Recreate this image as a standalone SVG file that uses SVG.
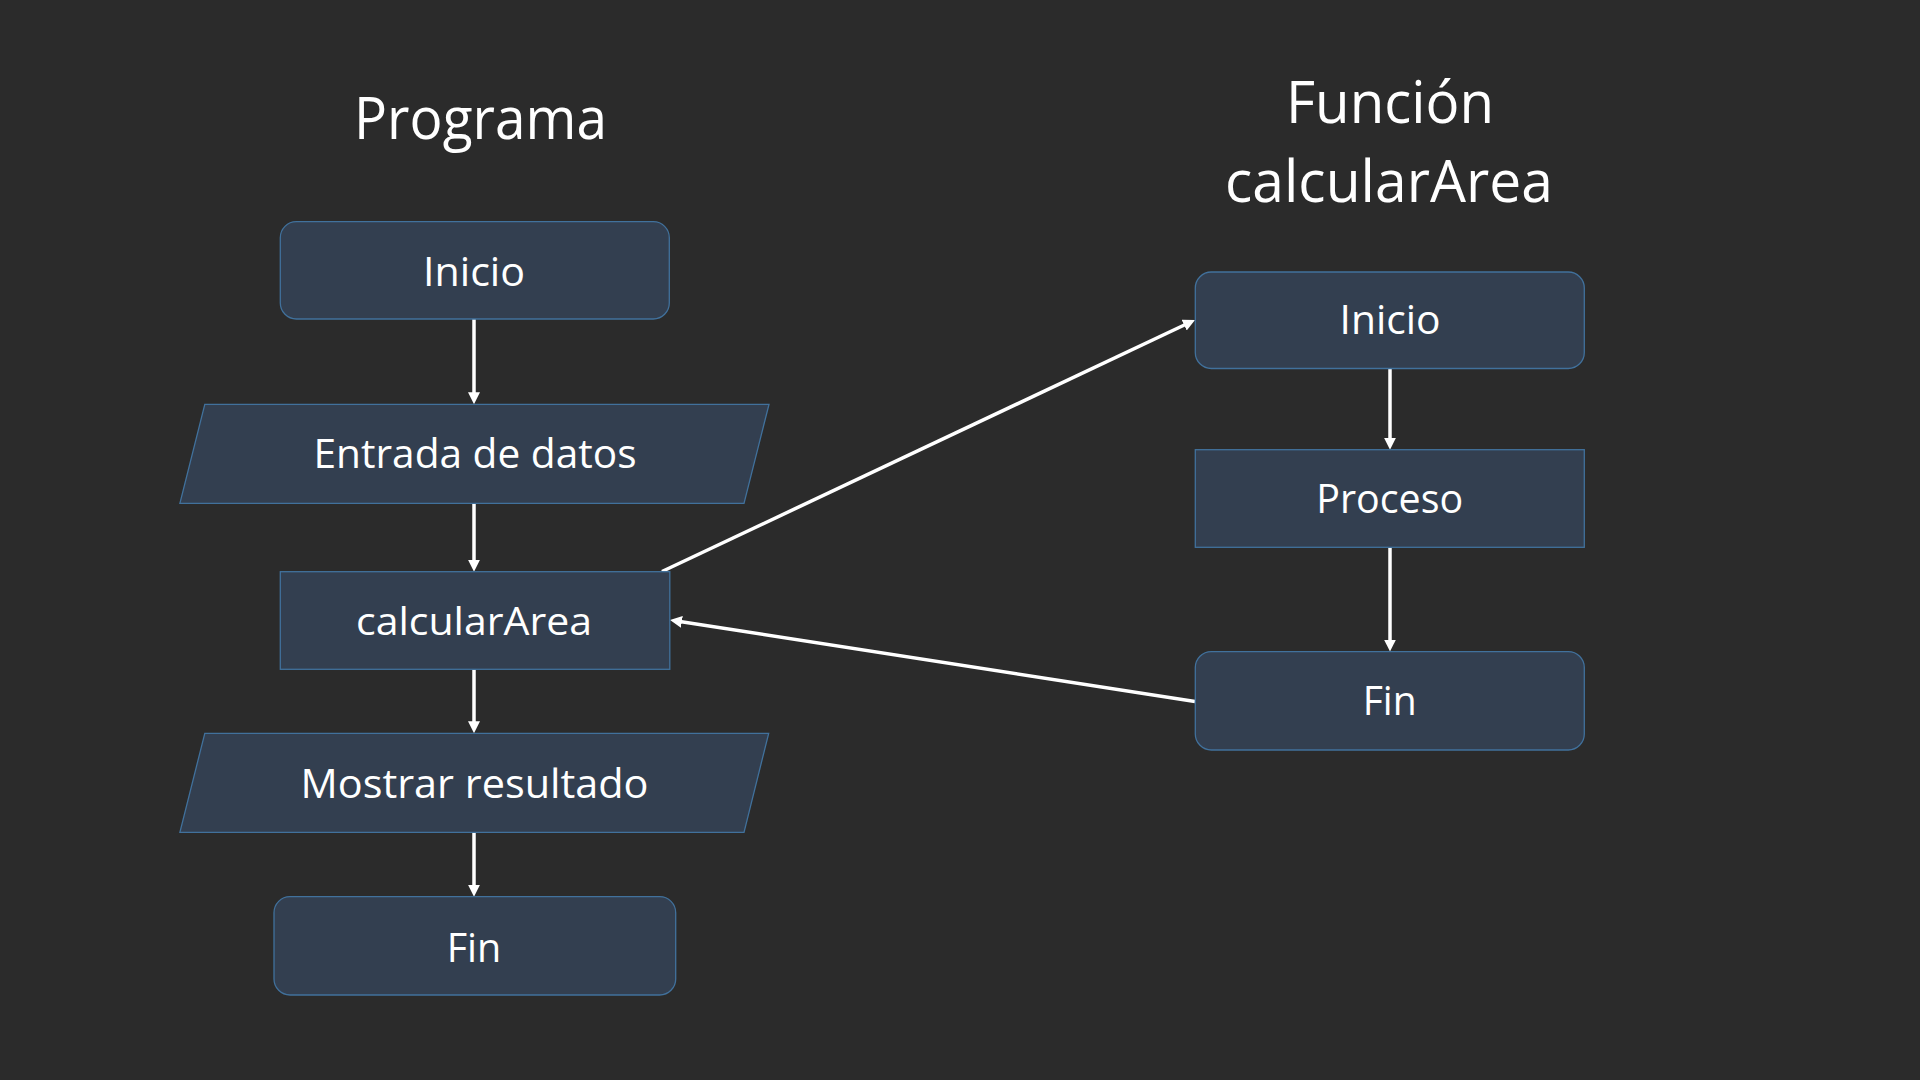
<svg xmlns="http://www.w3.org/2000/svg" width="1920" height="1080" viewBox="0 0 1920 1080">
<defs>
<style>
.bg{fill:#2b2b2b}
.node{fill:#333f50;stroke:#41719c;stroke-width:1.3}
.t{fill:#ffffff;font-family:"Open Sans","Noto Sans","Liberation Sans",sans-serif;text-anchor:middle}
.n{font-size:41px}
.title{font-size:59px}
.edge{stroke:#ffffff;stroke-width:3.5;fill:none;marker-end:url(#arr)}
</style>
<marker id="arr" markerUnits="userSpaceOnUse" markerWidth="14" markerHeight="14" refX="2" refY="6" orient="auto">
<path d="M0,0 L12,6 L0,12 z" fill="#ffffff"/>
</marker>
</defs>
<rect class="bg" x="0" y="0" width="1920" height="1080"/>

<g id="title-programa">
<text class="t title" x="480.5" y="139.3" textLength="253" lengthAdjust="spacingAndGlyphs">Programa</text>
</g>
<g id="title-funcion">
<text class="t title" x="1390" y="122.7" textLength="208" lengthAdjust="spacingAndGlyphs">Función</text>
<text class="t title" x="1389" y="201.7" textLength="328" lengthAdjust="spacingAndGlyphs">calcularArea</text>
</g>

<g id="connectors">
<line class="edge" x1="474" y1="319" x2="474" y2="394.3"/>
<line class="edge" x1="474" y1="503.3" x2="474" y2="561.7"/>
<line class="edge" x1="474" y1="669.3" x2="474" y2="723.3"/>
<line class="edge" x1="474" y1="832.3" x2="474" y2="886.7"/>
<line class="edge" x1="1390" y1="368.5" x2="1390" y2="439.7"/>
<line class="edge" x1="1390" y1="547.3" x2="1390" y2="641.6"/>
<line class="edge" x1="662" y1="571.5" x2="1185.96" y2="324.27"/>
<line class="edge" x1="1195" y1="701.5" x2="679.88" y2="621.53"/>
</g>

<g id="inicio-main">
<rect class="node" x="280.3" y="221.7" width="389" height="97.3" rx="16"/>
<text class="t n" x="474" y="286" textLength="102" lengthAdjust="spacingAndGlyphs">Inicio</text>
</g>
<g id="entrada">
<polygon class="node" points="204.8,404.3 769,404.3 744,503.3 179.9,503.3"/>
<text class="t n" x="475" y="468.3" textLength="323" lengthAdjust="spacingAndGlyphs">Entrada de datos</text>
</g>
<g id="calcular-area">
<rect class="node" x="280.3" y="571.7" width="389.5" height="97.6"/>
<text class="t" style="font-size:39px" x="474" y="635" textLength="236" lengthAdjust="spacingAndGlyphs">calcularArea</text>
</g>
<g id="mostrar">
<polygon class="node" points="204.8,733.3 768.7,733.3 744,832.3 179.9,832.3"/>
<text class="t n" x="474.5" y="798.3" textLength="348" lengthAdjust="spacingAndGlyphs">Mostrar resultado</text>
</g>
<g id="fin-main">
<rect class="node" x="274" y="896.7" width="401.7" height="98.3" rx="16"/>
<text class="t n" x="474" y="961.7" textLength="54.6" lengthAdjust="spacingAndGlyphs">Fin</text>
</g>

<g id="inicio-func">
<rect class="node" x="1195.3" y="272" width="389" height="96.5" rx="16"/>
<text class="t n" x="1390" y="334.2" textLength="101" lengthAdjust="spacingAndGlyphs">Inicio</text>
</g>
<g id="proceso">
<rect class="node" x="1195.3" y="449.7" width="389" height="97.6"/>
<text class="t n" x="1389.7" y="513.3" textLength="147" lengthAdjust="spacingAndGlyphs">Proceso</text>
</g>
<g id="fin-func">
<rect class="node" x="1195.3" y="651.6" width="389" height="98.4" rx="16"/>
<text class="t n" x="1389.7" y="715.4" textLength="54" lengthAdjust="spacingAndGlyphs">Fin</text>
</g>
</svg>
